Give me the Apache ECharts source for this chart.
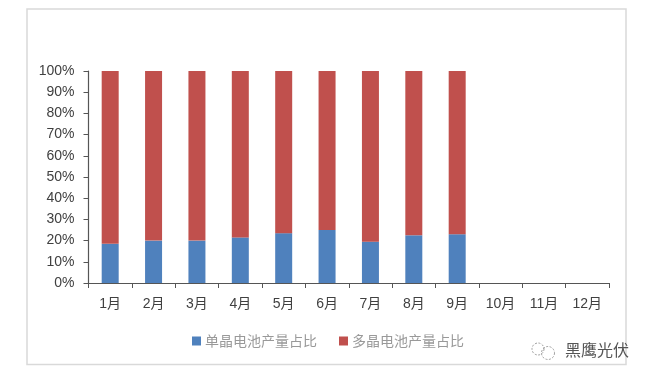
<!DOCTYPE html>
<html><head><meta charset="utf-8">
<style>html,body{margin:0;padding:0;background:#fff}#c{width:648px;height:379px}</style>
<script src="https://cdn.jsdelivr.net/npm/echarts@6/dist/echarts.min.js"></script>
</head><body><div id="c"></div>
<script>
const categories = ['1月','2月','3月','4月','5月','6月','7月','8月','9月','10月','11月','12月'];
const monoShare = [18.5,20,20,21.5,23.5,25,19.5,22.5,23,null,null,null];
const multiShare = [81.5,80,80,78.5,76.5,75,80.5,77.5,77,null,null,null];
const seriesNames = ['单晶电池产量占比','多晶电池产量占比'];
const watermark = '黑鹰光伏';
const chart = echarts.init(document.getElementById('c'), null, {renderer:'canvas'});
const font = '"Liberation Sans","Noto Sans CJK SC",sans-serif';
chart.setOption({
  animation:false,
  backgroundColor:'#fff',
  grid:{left:88.5,right:39,top:71,bottom:96,containLabel:false},
  legend:{
    top:329,left:187,itemGap:22,itemWidth:9,itemHeight:9,icon:'rect',
    textStyle:{fontFamily:'"Noto Sans CJK SC",sans-serif',fontSize:14,color:'#999999',padding:[0,0,0,-1]},
    data:seriesNames
  },
  xAxis:{
    type:'category',data:categories,
    axisLine:{lineStyle:{color:'#555',width:1.2}},
    axisTick:{show:true,alignWithLabel:false,length:5,inside:false,lineStyle:{color:'#555'}},
    axisLabel:{fontFamily:font,fontSize:14,color:'#404040',margin:14}
  },
  yAxis:{
    type:'value',min:0,max:100,interval:10,
    axisLine:{show:true,lineStyle:{color:'#555',width:1.2}},
    axisTick:{show:true,length:5,lineStyle:{color:'#555'}},
    splitLine:{show:false},
    axisLabel:{formatter:'{value}%',fontFamily:font,fontSize:14,color:'#404040',margin:14}
  },
  series:[
    {name:seriesNames[0],type:'bar',stack:'s',barWidth:17,data:monoShare,itemStyle:{color:'#4f81bd'}},
    {name:seriesNames[1],type:'bar',stack:'s',barWidth:17,data:multiShare,itemStyle:{color:'#c0504d'}}
  ],
  graphic:[
    {type:'rect',z:-1,shape:{x:27,y:9,width:599,height:355.5},style:{fill:'#fff',stroke:'#d9d9d9',lineWidth:1.5}},
    {type:'circle',shape:{cx:538,cy:349,r:6},style:{fill:'none',stroke:'#888',lineWidth:0.8,lineDash:[2,1.5]}},
    {type:'circle',shape:{cx:548,cy:353,r:6.5},style:{fill:'none',stroke:'#888',lineWidth:0.8,lineDash:[2,1.5]}},
    {type:'text',style:{x:565,y:342,text:watermark,fontFamily:'"Noto Sans CJK SC",sans-serif',fontSize:16,fill:'#555'}}
  ]
});
</script></body></html>
